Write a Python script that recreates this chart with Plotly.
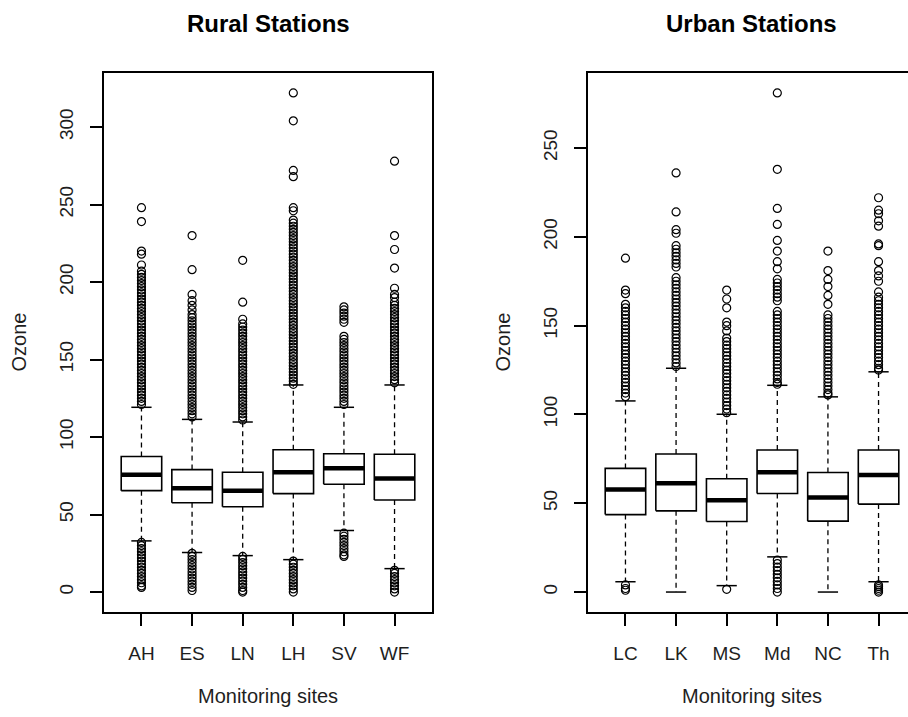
import plotly.graph_objects as go

W, H = 908, 717

# ---------------- data ----------------
rural_sites = ["AH", "ES", "LN", "LH", "SV", "WF"]
rural_q1 = [65.4, 57.6, 55.0, 63.5, 69.5, 59.4]
rural_median = [75.6, 66.9, 65.4, 77.3, 79.9, 73.2]
rural_q3 = [87.4, 79.0, 77.3, 91.8, 89.2, 88.9]
rural_lower = [33.0, 25.5, 23.5, 20.9, 39.7, 15.1]
rural_upper = [119.2, 111.4, 109.7, 133.6, 119.2, 133.6]
rural_outliers = [
    [248, 239, 220, 218, 211, 207, 205, 203, 201, 199, 197, 195, 193, 191, 189, 187, 185, 183,
     181, 179, 177, 175, 173, 171, 169, 167, 165, 163, 161, 159, 157, 155, 153, 151, 149, 147,
     145, 143, 141, 139, 137, 135, 133, 131, 129, 127, 125, 123, 121,
     32, 30, 28, 26, 24, 22, 20, 18, 16, 14, 12, 10, 8, 6, 4, 3],
    [230, 208, 192, 188, 185, 182, 179, 177, 175, 173, 171, 169, 167, 165, 163, 161, 159, 157,
     155, 153, 151, 149, 147, 145, 143, 141, 139, 137, 135, 133, 131, 129, 127, 125, 123, 121,
     119, 117, 115, 113,
     25, 23, 21, 19, 17, 15, 13, 11, 9, 7, 5, 3, 1],
    [214, 187, 176, 173, 171, 169, 167, 165, 163, 161, 159, 157, 155, 153, 151, 149, 147, 145,
     143, 141, 139, 137, 135, 133, 131, 129, 127, 125, 123, 121, 119, 117, 115, 113, 111,
     23, 21, 19, 17, 15, 13, 11, 9, 7, 5, 3, 1, 0],
    [322, 304, 272, 268, 248, 246, 240, 238, 236, 234, 232, 230, 228, 226, 224, 222, 220, 218,
     216, 214, 212, 210, 208, 206, 204, 202, 200, 198, 196, 194, 192, 190, 188, 186, 184, 182,
     180, 178, 176, 174, 172, 170, 168, 166, 164, 162, 160, 158, 156, 154, 152, 150, 148, 146,
     144, 142, 140, 138, 136, 134,
     20, 18, 16, 14, 12, 10, 8, 6, 4, 2, 0],
    [184, 182, 180, 178, 176, 174, 165, 163, 161, 159, 157, 155, 153, 151, 149, 147, 145, 143,
     141, 139, 137, 135, 133, 131, 129, 127, 125, 123, 121,
     38, 36, 34, 32, 30, 28, 26, 24, 23],
    [278, 230, 221, 209, 196, 192, 190, 187, 185, 183, 181, 179, 177, 175, 173, 171, 169, 167,
     165, 163, 161, 159, 157, 155, 153, 151, 149, 147, 145, 143, 141, 139, 137, 135,
     14, 12, 10, 8, 6, 4, 2, 0],
]

urban_sites = ["LC", "LK", "MS", "Md", "NC", "Th"]
urban_q1 = [43.6, 45.7, 39.7, 55.5, 39.9, 49.5]
urban_median = [57.7, 61.3, 51.7, 67.5, 53.2, 65.9]
urban_q3 = [69.6, 77.7, 63.8, 80.0, 67.3, 80.0]
urban_lower = [5.8, 0.0, 3.6, 19.8, 0.0, 5.8]
urban_upper = [107.6, 126.0, 100.1, 116.4, 109.9, 124.0]
urban_outliers = [
    [188, 170, 168, 162, 160, 158, 156, 154, 152, 150, 148, 146, 144, 142, 140, 138, 136, 134,
     132, 130, 128, 126, 124, 122, 120, 118, 116, 114, 112, 110,
     4, 2, 1],
    [236, 214, 204, 202, 195, 193, 191, 189, 187, 185, 183, 177, 175, 173, 171, 169, 167, 165,
     163, 161, 159, 157, 155, 153, 151, 149, 147, 145, 143, 141, 139, 137, 135, 133, 131, 129,
     127],
    [170, 165, 160, 152, 150, 147, 143, 141, 139, 137, 135, 133, 131, 129, 127, 125, 123, 121,
     119, 117, 115, 113, 111, 109, 107, 105, 103, 101,
     1.5],
    [281, 238, 216, 207, 198, 192, 186, 182, 176, 174, 172, 170, 168, 166, 164, 158, 156, 154,
     152, 150, 148, 146, 144, 142, 140, 138, 136, 134, 132, 130, 128, 126, 124, 122, 120, 118,
     117,
     18, 16, 14, 12, 10, 8, 6, 4, 2, 0],
    [192, 181, 176, 172, 167, 162, 156, 154, 152, 150, 148, 146, 144, 142, 140, 138, 136, 134,
     132, 130, 128, 126, 124, 122, 120, 118, 116, 114, 112, 111],
    [222, 215, 213, 209, 206, 196, 195, 186, 181, 178, 175, 169, 166, 164, 162, 160, 158, 156,
     154, 152, 150, 148, 146, 144, 142, 140, 138, 136, 134, 132, 130, 128, 126, 125,
     4, 3, 2, 1, 0],
]

rural_yticks = [0, 50, 100, 150, 200, 250, 300]
urban_yticks = [0, 50, 100, 150, 200, 250]

titles = ["Rural Stations", "Urban Stations"]
x_label = "Monitoring sites"
y_label = "Ozone"

# ---------------- style / layout constants ----------------
FONT = "Liberation Sans"
TEXT_COLOR = "#1e1e1e"
BOXW = 0.8
STAPLE = 0.4
PX_PER_UNIT = 328 / 6.48


def px_x(p):
    return p / W


def px_y(p):
    return 1 - p / H


def panel_traces(q1, med, q3, lo, hi, outs, xa, ya):
    bx, by, mx, my, wx, wy, sx, sy, ox, oy = [], [], [], [], [], [], [], [], [], []
    for i in range(len(q1)):
        c = i + 1
        x0, x1 = c - BOXW / 2, c + BOXW / 2
        bx += [x0, x1, x1, x0, x0, None]
        by += [q1[i], q1[i], q3[i], q3[i], q1[i], None]
        mx += [x0, x1, None]
        my += [med[i], med[i], None]
        wx += [c, c, None, c, c, None]
        wy += [q3[i], hi[i], None, q1[i], lo[i], None]
        sx += [c - STAPLE / 2, c + STAPLE / 2, None, c - STAPLE / 2, c + STAPLE / 2, None]
        sy += [hi[i], hi[i], None, lo[i], lo[i], None]
        for v in outs[i]:
            ox.append(c)
            oy.append(v)
    common = dict(xaxis=xa, yaxis=ya, showlegend=False, hoverinfo="skip")
    return [
        go.Scatter(x=wx, y=wy, mode="lines", line=dict(color="black", width=1.3, dash="5px,4px"), **common),
        go.Scatter(x=sx, y=sy, mode="lines", line=dict(color="black", width=1.5), **common),
        go.Scatter(x=bx, y=by, mode="lines", fill="toself", fillcolor="white",
                   line=dict(color="black", width=1.6), **common),
        go.Scatter(x=mx, y=my, mode="lines", line=dict(color="black", width=4.5), **common),
        go.Scatter(x=ox, y=oy, mode="markers",
                   marker=dict(symbol="circle-open", size=8, color="black", line=dict(width=1.2)),
                   **common),
    ]


fig = go.Figure()
for t in panel_traces(rural_q1, rural_median, rural_q3, rural_lower, rural_upper, rural_outliers, "x", "y"):
    fig.add_trace(t)
for t in panel_traces(urban_q1, urban_median, urban_q3, urban_lower, urban_upper, urban_outliers, "x2", "y2"):
    fig.add_trace(t)


def yrange(q1, lo, hi, outs):
    vals = list(lo) + list(hi) + [v for o in outs for v in o]
    a, b = min(vals), max(vals)
    pad = 0.04 * (b - a)
    return [a - pad, b + pad]


# panel pixel geometry
L_LEFT, L_RIGHT = 104, 432
R_LEFT, R_RIGHT = 588, 908
TOP, BOTTOM = 73, 612
x_lo = 0.5 - 0.04 * 6
right_xmax = x_lo + (R_RIGHT - R_LEFT) / PX_PER_UNIT

tickfont = dict(family=FONT, size=19, color=TEXT_COLOR)
xcommon = dict(showgrid=False, zeroline=False, showline=True, linecolor="black", linewidth=1.5,
               mirror=True, ticks="outside", ticklen=12, tickwidth=1.5, tickcolor="black",
               tickfont=tickfont, tickvals=[1, 2, 3, 4, 5, 6], ticklabelstandoff=11)
ycommon = dict(showgrid=False, zeroline=False, showline=True, linecolor="black", linewidth=1.5,
               ticks="outside", ticklen=12, tickwidth=1.5, tickcolor="black",
               tickfont=tickfont, tickangle=-90, ticklabelstandoff=10)

fig.update_layout(
    width=W, height=H,
    margin=dict(l=0, r=0, t=0, b=0),
    paper_bgcolor="white", plot_bgcolor="white",
    font=dict(family=FONT, color=TEXT_COLOR),
    xaxis=dict(domain=[px_x(L_LEFT), px_x(L_RIGHT)], range=[x_lo, 6.5 + 0.24],
               ticktext=rural_sites, anchor="y", **xcommon),
    yaxis=dict(domain=[px_y(BOTTOM), px_y(TOP)],
               range=yrange(rural_q1, rural_lower, rural_upper, rural_outliers),
               tickvals=rural_yticks, mirror=True, anchor="x", **ycommon),
    xaxis2=dict(domain=[px_x(R_LEFT), 1.0], range=[x_lo, right_xmax],
                ticktext=urban_sites, anchor="y2", **xcommon),
    yaxis2=dict(domain=[px_y(BOTTOM), px_y(TOP)],
                range=yrange(urban_q1, urban_lower, urban_upper, urban_outliers),
                tickvals=urban_yticks, mirror=False, anchor="x2", **ycommon),
)

annos = []
centers = [(L_LEFT + L_RIGHT) / 2, (R_LEFT + 915) / 2]
for cx, t in zip(centers, titles):
    annos.append(dict(text=f"<b>{t}</b>", x=px_x(cx), y=px_y(23), xref="paper", yref="paper",
                      xanchor="center", yanchor="middle", showarrow=False,
                      font=dict(family=FONT, size=24, color="black")))
    annos.append(dict(text=x_label, x=px_x(cx), y=px_y(696), xref="paper", yref="paper",
                      xanchor="center", yanchor="middle", showarrow=False,
                      font=dict(family=FONT, size=20, color=TEXT_COLOR)))
for ax_x in [19, 503]:
    annos.append(dict(text=y_label, x=px_x(ax_x), y=px_y((TOP + BOTTOM) / 2), xref="paper", yref="paper",
                      xanchor="center", yanchor="middle", textangle=-90, showarrow=False,
                      font=dict(family=FONT, size=20, color=TEXT_COLOR)))
fig.update_layout(annotations=annos)

fig.write_html("out.html")
